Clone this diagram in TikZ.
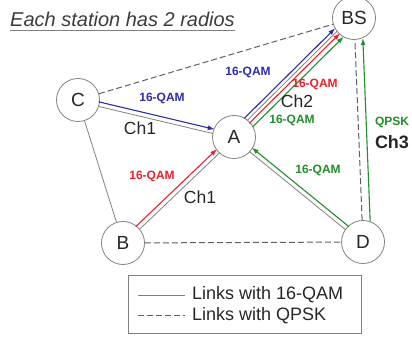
\documentclass[tikz,border=0pt]{standalone}
\usepackage{fontspec}
\setmainfont{Liberation Sans}
\usetikzlibrary{calc,arrows.meta}
\definecolor{linkgray}{RGB}{128,128,128}
\definecolor{dashgray}{RGB}{95,95,95}
\definecolor{textgray}{RGB}{60,60,60}
\definecolor{qamblue}{RGB}{45,45,165}
\definecolor{qamred}{RGB}{230,35,45}
\definecolor{qamgreen}{RGB}{35,140,45}
\def\sidelink[#1](#2)(#3)(#4){\draw[#1] ($(#2)!#4!90:(#3)$) -- ($(#3)!#4!-90:(#2)$);}
\tikzset{
	station/.style={circle, draw=linkgray, fill=white, line width=0.8pt, minimum size=43pt, inner sep=0pt, text=black!85, font=\fontsize{19}{19}\selectfont},
	link/.style={draw=linkgray, line width=0.8pt},
	qpsk/.style={draw=dashgray, line width=1pt, dash pattern=on 6pt off 3pt},
	radio/.style={line width=1.1pt, -{Latex[length=7pt,width=5pt]}, shorten <=20.5pt, shorten >=20.5pt},
	sublink/.style={link, shorten <=21.3pt, shorten >=21.3pt},
	rate/.style={inner sep=1pt, font=\fontsize{12}{12}\selectfont\bfseries},
	chan/.style={inner sep=0.5pt, text=black!85, font=\fontsize{17.5}{17.5}\selectfont},
	legendtext/.style={inner sep=0pt, anchor=west, text=black!85, font=\fontsize{18}{18}\selectfont}
}

\begin{document}
\begin{tikzpicture}[x=1pt, y=1pt]
		%%%%% START %%%%%
		\useasboundingbox (0, 0) rectangle (412, 337);
		
		\node[inner sep=0pt, anchor=base west, text=textgray, font=\fontsize{20}{20}\selectfont\itshape] (title) at (10, 310) {Each station has 2 radios};
		\draw[linkgray, line width=1.6pt] ([yshift=-3.5pt]title.base west) -- ([yshift=-3.5pt]title.base east);
		
		\node[station] (C) at (78, 237) {C};
		\node[station] (A) at (234, 200) {A};
		\node[station] (BS) at (354, 319) {BS};
		\node[station] (B) at (123, 94) {B};
		\node[station] (D) at (363, 95) {D};
		
		% plain links
		\draw[qpsk] (C) -- (BS);
		\draw[link] (C) -- (B);
		\draw[qpsk] (B) -- (D);
		\draw[qpsk] (D) -- (BS);
		
		% C -> A
		\sidelink[sublink](C)(A)(-1.5pt)
		\sidelink[radio, qamblue](C)(A)(3pt)
		\node[rate, text=qamblue] (rCA) at (162, 239) {16-QAM};
		\node[chan] (chCA) at (140, 209) {Ch1};
		
		% B -> A
		\sidelink[sublink](B)(A)(-1.5pt)
		\sidelink[radio, qamred](B)(A)(3pt)
		\node[rate, text=qamred] (rBA) at (152, 161) {16-QAM};
		\node[chan] (chBA) at (200, 140) {Ch1};
		
		% A -> BS
		\sidelink[radio, qamblue](A)(BS)(6pt)
		\sidelink[sublink](A)(BS)(2.5pt)
		\sidelink[radio, qamred](A)(BS)(-1pt)
		\sidelink[radio, qamgreen](A)(BS)(-6pt)
		\node[rate, text=qamblue] (rABblue) at (248, 265) {16-QAM};
		\node[rate, text=qamred] (rABred) at (315, 253) {16-QAM};
		\node[chan] (chAB) at (297, 236) {Ch2};
		\node[rate, text=qamgreen] (rABgreen) at (292, 217) {16-QAM};
		
		% D -> A
		\sidelink[sublink](D)(A)(1.5pt)
		\sidelink[radio, qamgreen](D)(A)(-3pt)
		\node[rate, text=qamgreen] (rDA) at (318, 167) {16-QAM};
		
		% D -> BS
		\sidelink[radio, qamgreen](D)(BS)(-8pt)
		\node[rate, text=qamgreen] (rDB) at (392, 215) {QPSK};
		\node[chan, font=\fontsize{18}{18}\selectfont\bfseries] (chDB) at (392, 195) {Ch3};
		
		% legend
		\draw[link] (128, 4) rectangle (361, 62);
		\draw[link] (138, 42) -- (185, 42);
		\draw[qpsk] (138, 21) -- (185, 21);
		\node[legendtext] (l1) at (192, 42) {Links with 16-QAM};
		\node[legendtext] (l2) at (192, 21) {Links with QPSK};
		
		%%%%% END %%%%%
	\end{tikzpicture}
\end{document}
